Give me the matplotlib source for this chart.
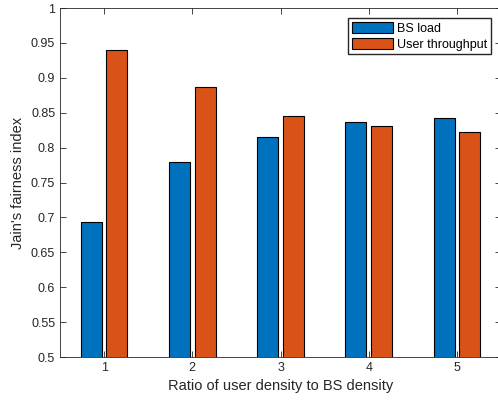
#!/usr/bin/env python3
"""Jain's fairness index of BS load and user throughput vs density ratio."""

import numpy as np
import matplotlib
matplotlib.use("Agg")
import matplotlib.pyplot as plt

plt.rcParams["font.family"] = ["Liberation Sans", "DejaVu Sans"]

RATIOS = [1, 2, 3, 4, 5]
BS_LOAD = [0.693, 0.779, 0.815, 0.837, 0.842]
USER_THROUGHPUT = [0.940, 0.887, 0.845, 0.831, 0.822]
Y_TICKS = [0.5, 0.55, 0.6, 0.65, 0.7, 0.75, 0.8, 0.85, 0.9, 0.95, 1]

BLUE = "#0072BD"
ORANGE = "#D95319"


def main():
    fig = plt.figure(figsize=(4.98, 4.01), dpi=100)
    ax = fig.add_axes([60 / 498, 44 / 401, 441 / 498, 349 / 401])

    x = np.array(RATIOS)
    w = 0.24
    ax.bar(x - 0.145, BS_LOAD, width=w, color=BLUE, edgecolor="black",
           linewidth=0.8, label="BS load")
    ax.bar(x + 0.145, USER_THROUGHPUT, width=w, color=ORANGE, edgecolor="black",
           linewidth=0.8, label="User throughput")

    ax.set_xlim(0.5, 5.5)
    ax.set_ylim(0.5, 1)
    ax.set_xticks(RATIOS)
    ax.set_yticks(Y_TICKS)
    ax.set_yticklabels([f"{v:g}" for v in Y_TICKS])
    ax.tick_params(direction="in", top=True, right=True, labelsize=9,
                   length=4, width=0.6, colors="#262626")
    for s in ax.spines.values():
        s.set_linewidth(0.6)
        s.set_color("#262626")

    ax.set_xlabel("Ratio of user density to BS density", fontsize=10.5, color="#262626")
    ax.set_ylabel("Jain's fairness index", fontsize=10.5, color="#262626")

    ax.legend(loc="upper right", bbox_to_anchor=(491 / 498, 1 - 18 / 401),
              bbox_transform=fig.transFigure, borderaxespad=0, fontsize=9,
              fancybox=False, edgecolor="#262626", framealpha=1,
              handlelength=3.3, handleheight=1.0, handletextpad=0.3,
              borderpad=0.3, labelspacing=0.25)

    fig.savefig("out.png", dpi=100)


if __name__ == "__main__":
    main()
